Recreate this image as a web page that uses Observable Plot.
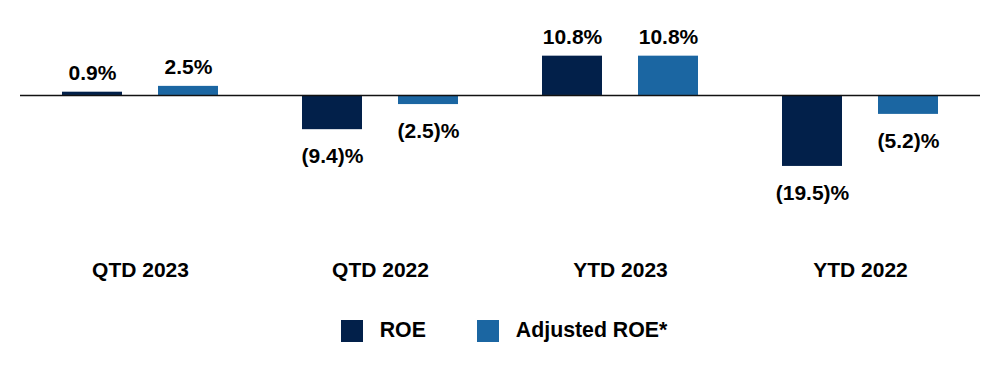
<!DOCTYPE html>
<html>
<head>
<meta charset="utf-8">
<script src="https://cdn.jsdelivr.net/npm/d3@7"></script>
<script src="https://cdn.jsdelivr.net/npm/@observablehq/plot@0.6"></script>
<style>
  body { margin: 0; background: #fff; font-family: "Liberation Sans", Arial, sans-serif; }
  #chart { width: 1000px; }
  .legend { display: flex; justify-content: center; align-items: center; margin-top: 18px; padding-left: 8px;
    font: bold 21.3px "Liberation Sans", Arial, sans-serif; color: #000; }
  .legend .item { display: flex; align-items: center; }
  .legend .item + .item { margin-left: 51px; }
  .legend .sw { width: 22px; height: 22px; margin-right: 17px; }
</style>
</head>
<body>
<div id="chart"></div>
<script>
const categories = ["QTD 2023", "QTD 2022", "YTD 2023", "YTD 2022"];
const seriesNames = ["ROE", "Adjusted ROE*"];
const roe = [0.9, -9.4, 10.8, -19.5];
const adjustedRoe = [2.5, -2.5, 10.8, -5.2];
const colors = ["#02204a", "#1b66a2"];

const data = [];
categories.forEach((c, i) => {
  data.push({category: c, series: seriesNames[0], value: roe[i]});
  data.push({category: c, series: seriesNames[1], value: adjustedRoe[i]});
});
const fmt = v => v < 0 ? `(${Math.abs(v).toFixed(1)})%` : `${v.toFixed(1)}%`;

const chart = Plot.plot({
  width: 1000,
  height: 300,
  marginTop: 20,
  marginBottom: 50,
  marginLeft: 20,
  marginRight: 20,
  style: {fontFamily: "'Liberation Sans', Arial, sans-serif", fontSize: "21px", fontWeight: "bold", color: "#000"},
  fx: {domain: categories, padding: 0, axis: "bottom", tickSize: 0, tickPadding: 12, label: null},
  x: {domain: seriesNames, paddingInner: 0.375, paddingOuter: 0.4375, axis: null},
  y: {domain: [-42.6, 20.6], axis: null},
  color: {domain: seriesNames, range: colors},
  marks: [
    Plot.barY(data, {fx: "category", x: "series", y: "value", fill: "series"}),
    Plot.ruleY([0], {stroke: "#111", strokeWidth: 1.5}),
    Plot.text(data.filter(d => d.value >= 0), {fx: "category", x: "series", y: "value", text: d => fmt(d.value), dy: -19, lineAnchor: "middle", fill: "#000"}),
    Plot.text(data.filter(d => d.value < 0), {fx: "category", x: "series", y: "value", text: d => fmt(d.value), dy: 27, lineAnchor: "middle", fill: "#000"})
  ]
});
document.getElementById("chart").appendChild(chart);

const legend = document.createElement("div");
legend.className = "legend";
seriesNames.forEach((s, i) => {
  const item = document.createElement("div");
  item.className = "item";
  const sw = document.createElement("div");
  sw.className = "sw";
  sw.style.background = colors[i];
  const label = document.createElement("span");
  label.textContent = s;
  item.appendChild(sw);
  item.appendChild(label);
  legend.appendChild(item);
});
document.getElementById("chart").appendChild(legend);
</script>
</body>
</html>
